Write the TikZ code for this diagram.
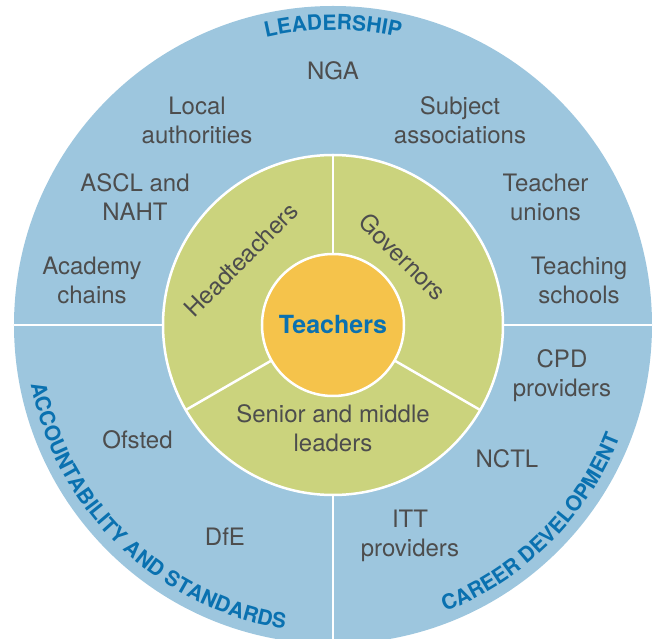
\documentclass[tikz,border=0pt]{standalone}
\usepackage{fontspec}
\setmainfont{TeX Gyre Heros}
\usepackage{tikz}
\usetikzlibrary{decorations.text}

\definecolor{ringblue}{HTML}{9DC6DE}
\definecolor{ringgreen}{HTML}{CBD37D}
\definecolor{coreorange}{HTML}{F5C34B}
\definecolor{headblue}{HTML}{0A71B0}
\definecolor{labelgray}{HTML}{4D4D4D}

\newcommand{\headfont}{\bfseries\fontsize{21}{21}\selectfont}

\begin{document}
\begin{tikzpicture}[x=1pt, y=1pt,
    orgtext/.style={align=center, text=labelgray, font=\fontsize{24}{29}\selectfont},
    divider/.style={white, line width=2.5pt},
    arctext/.style={decorate, decoration={text along path, text align=center, text color=headblue}}]
    \useasboundingbox (-333,-314) rectangle (320,325);
    \fill[ringblue] (0,0) circle (319);
    \draw[divider] (-319,0) -- (-170,0);
    \draw[divider] (170,0) -- (319,0);
    \draw[divider] (0,-170) -- (0,-319);
    \filldraw[fill=ringgreen, draw=white, line width=2.5pt] (0,0) circle (170);
    \draw[divider] (90:71) -- (90:170);
    \draw[divider] (210:71) -- (210:170);
    \draw[divider] (330:71) -- (330:170);
    \filldraw[fill=coreorange, draw=white, line width=2.5pt] (0,0) circle (71);

    \path[arctext, decoration={text={|\headfont|LEADERSHIP}}] (160:295) arc[start angle=160, end angle=20, radius=295];
    \path[arctext, decoration={text={|\headfont|ACCOUNTABILITY AND STANDARDS}}] (181:308) arc[start angle=181, end angle=271, radius=308];
    \path[arctext, decoration={text={|\headfont|CAREER DEVELOPMENT}}] (280:308) arc[start angle=280, end angle=350, radius=308];

    \node[font=\bfseries\fontsize{25}{28}\selectfont, text=headblue] (teachers) at (0,0) {Teachers};
    \node[orgtext, rotate=45] (heads) at (-92,65) {Headteachers};
    \node[orgtext, rotate=-45] (governors) at (70,68) {Governors};
    \node[orgtext] (senior) at (0,-103.5) {Senior and middle\\leaders};

    \node[orgtext] (nga) at (0,254) {NGA};
    \node[orgtext] (local) at (-136,205) {Local\\authorities};
    \node[orgtext] (subject) at (127,205) {Subject\\associations};
    \node[orgtext] (ascl) at (-198,127.5) {ASCL and\\NAHT};
    \node[orgtext] (unions) at (212.5,127.5) {Teacher\\unions};
    \node[orgtext] (academy) at (-241,45) {Academy\\chains};
    \node[orgtext] (tschools) at (246,45) {Teaching\\schools};
    \node[orgtext] (cpd) at (229,-51) {CPD\\providers};
    \node[orgtext] (ofsted) at (-195.5,-115) {Ofsted};
    \node[orgtext] (nctl) at (174,-133.5) {NCTL};
    \node[orgtext] (dfe) at (-108,-211.5) {DfE};
    \node[orgtext] (itt) at (77,-211) {ITT\\providers};
\end{tikzpicture}
\end{document}
